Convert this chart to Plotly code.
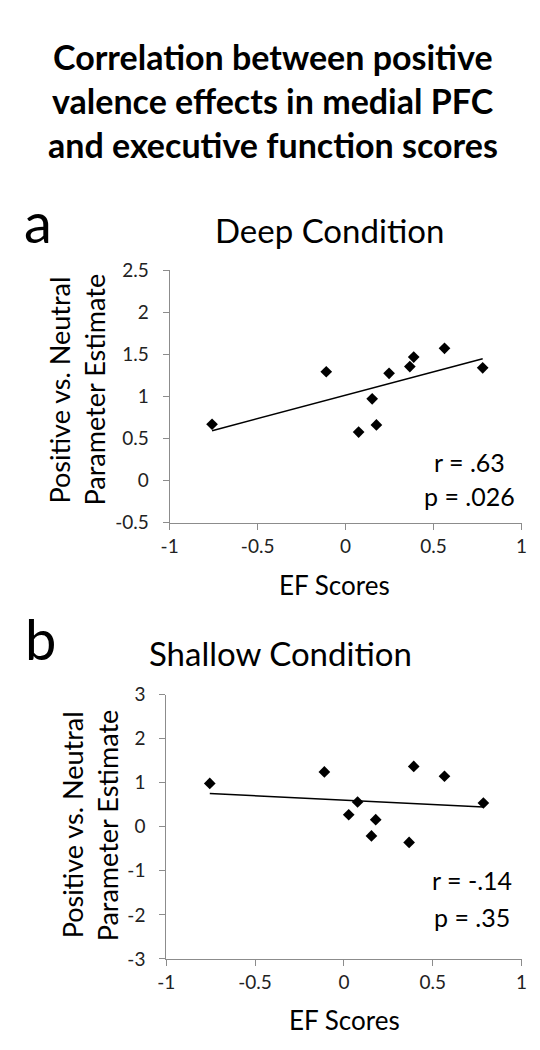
import numpy as np
import plotly.graph_objects as go

# ---- data ----
deep_ef = [-0.759, -0.110, 0.074, 0.151, 0.175, 0.247, 0.365, 0.387, 0.562, 0.779]
deep_pe = [0.671, 1.295, 0.578, 0.973, 0.663, 1.276, 1.357, 1.470, 1.574, 1.342]

shallow_ef = [-0.755, -0.110, 0.027, 0.077, 0.155, 0.179, 0.367, 0.393, 0.566, 0.785]
shallow_pe = [0.985, 1.245, 0.273, 0.562, -0.208, 0.162, -0.356, 1.370, 1.147, 0.540]

x_tickvals = [-1, -0.5, 0, 0.5, 1]
x_ticktext = ["-1", "-0.5", "0", "0.5", "1"]
deep_y_tickvals = [-0.5, 0, 0.5, 1, 1.5, 2, 2.5]
deep_y_ticktext = ["-0.5", "0", "0.5", "1", "1.5", "2", "2.5"]
shallow_y_tickvals = [-3, -2, -1, 0, 1, 2, 3]
shallow_y_ticktext = ["-3", "-2", "-1", "0", "1", "2", "3"]

title_lines = ["Correlation between positive",
               "valence effects in medial PFC",
               "and executive function scores"]
panel_titles = ["Deep Condition", "Shallow Condition"]
panel_letters = ["a", "b"]
stats_deep = ["r = .63", "p = .026"]
stats_shallow = ["r = -.14", "p = .35"]
y_title_lines = ["Positive vs. Neutral", "Parameter Estimate"]
x_title = "EF Scores"

W, H = 540, 1050
FONT = "Lato, 'Open Sans', sans-serif"


def px(x):
    return x / W


def py(y):
    return 1 - y / H


fig = go.Figure()


def add_panel(xs, ys, xa, ya):
    fig.add_trace(go.Scatter(
        x=xs, y=ys, mode="markers", xaxis=xa, yaxis=ya,
        marker=dict(symbol="diamond", size=9, color="black"),
        showlegend=False, hoverinfo="x+y"))
    m, b = np.polyfit(xs, ys, 1)
    xl = [min(xs), max(xs)]
    fig.add_trace(go.Scatter(
        x=xl, y=[m * v + b for v in xl], mode="lines", xaxis=xa, yaxis=ya,
        line=dict(color="black", width=1.5), showlegend=False,
        hoverinfo="skip"))


add_panel(deep_ef, deep_pe, "x", "y")
add_panel(shallow_ef, shallow_pe, "x2", "y2")

axis_common = dict(
    showgrid=False, zeroline=False, showline=True, linecolor="#8c8c8c",
    linewidth=1, ticks="outside", ticklen=6, tickcolor="#8c8c8c",
    tickfont=dict(family=FONT, size=19, color="#222222"), tickmode="array")

fig.update_layout(
    width=W, height=H, margin=dict(l=0, r=0, t=0, b=0),
    paper_bgcolor="white", plot_bgcolor="white",
    xaxis=dict(domain=[px(157), px(519)], range=[-1, 1], anchor="y",
               tickvals=x_tickvals, ticktext=x_ticktext,
               ticklabelstandoff=0, **axis_common),
    yaxis=dict(domain=[py(514), py(256)], range=[-0.5, 2.5], anchor="x",
               tickvals=deep_y_tickvals, ticktext=deep_y_ticktext,
               ticklabelstandoff=10, **axis_common),
    xaxis2=dict(domain=[px(153.5), px(519)], range=[-1, 1], anchor="y2",
                tickvals=x_tickvals, ticktext=x_ticktext,
                ticklabelstandoff=0, **axis_common),
    yaxis2=dict(domain=[py(960), py(689.7)], range=[-3, 3], anchor="x2",
                tickvals=shallow_y_tickvals, ticktext=shallow_y_ticktext,
                ticklabelstandoff=10, **axis_common),
)

ann = []


def text(x, y, s, size, bold=False, angle=0, xanchor="center"):
    ann.append(dict(
        x=px(x), y=py(y), xref="paper", yref="paper", text=s,
        showarrow=False, xanchor=xanchor, yanchor="middle", textangle=angle,
        font=dict(family=FONT, size=size, color="black"),
    ))


# main title
for i, line in enumerate(title_lines):
    text(263, 37 + i * 45, "<b>" + line + "</b>", 34)

# panel letters and titles
text(22, 206, panel_letters[0], 56)
text(24, 632, panel_letters[1], 56)
text(321, 215, panel_titles[0], 33)
text(271, 647, panel_titles[1], 33)

# y axis titles
text(44, 378, y_title_lines[0], 27, angle=-90)
text(80, 378, y_title_lines[1], 27, angle=-90)
text(58, 823, y_title_lines[0], 27, angle=-90)
text(94, 823, y_title_lines[1], 27, angle=-90)

# x axis titles
text(327, 578, x_title, 26)
text(337, 1022, x_title, 26)

# stats
text(465, 452, stats_deep[0], 25)
text(465, 487, stats_deep[1], 25)
text(468, 879, stats_shallow[0], 25)
text(468, 917, stats_shallow[1], 25)

fig.update_layout(annotations=ann)

fig.write_html("out.html")
